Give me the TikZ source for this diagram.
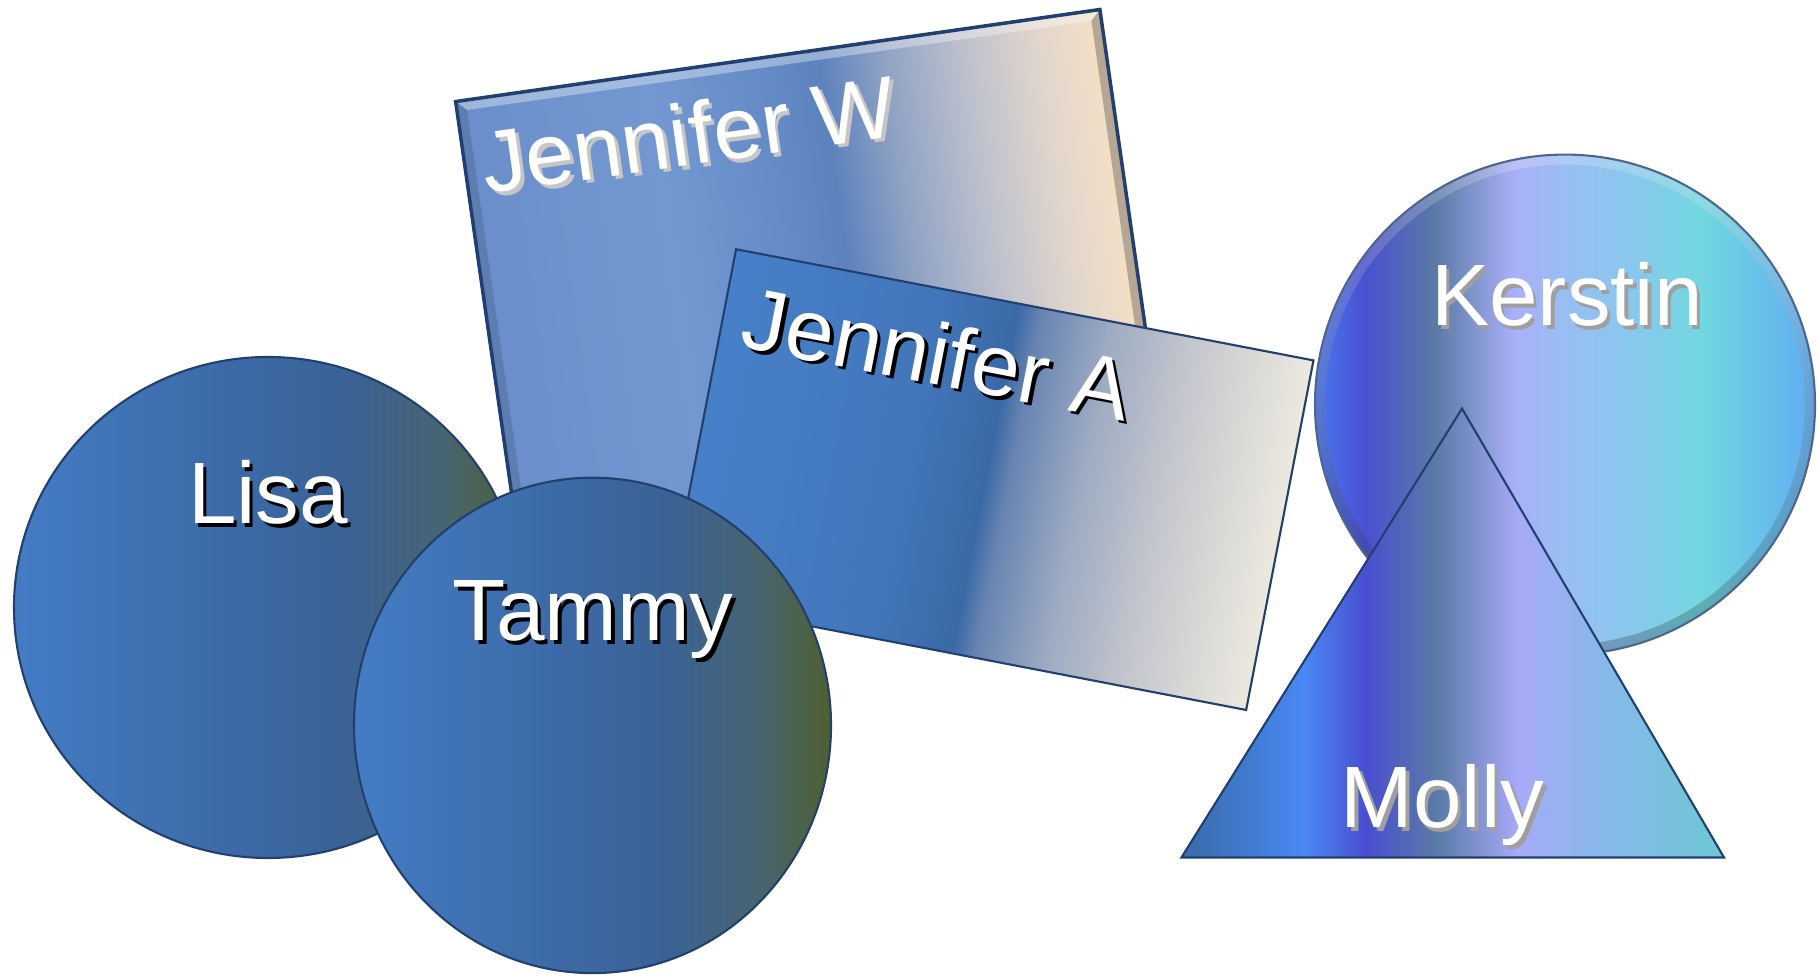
\documentclass[tikz,border=0pt]{standalone}
\usepackage{fontspec}
\setmainfont{Liberation Sans}

\definecolor{edgeblue}{HTML}{22406E}
% Lisa and Tammy
\definecolor{lt0}{HTML}{447CC4}\definecolor{lt1}{HTML}{3C69A5}
\definecolor{lt2}{HTML}{3A6296}\definecolor{lt3}{HTML}{486470}
\definecolor{lt4}{HTML}{4E6030}
% Jennifer W
\definecolor{jw0}{HTML}{6A8ECA}\definecolor{jw1}{HTML}{7398D1}
\definecolor{jw2}{HTML}{6289C5}\definecolor{jw3}{HTML}{5D82BE}
\definecolor{jw4}{HTML}{8FA2C3}\definecolor{jw5}{HTML}{BCC0CD}
\definecolor{jw6}{HTML}{E2D6CC}\definecolor{jw7}{HTML}{F4E0C5}
% Jennifer A
\definecolor{ja0}{HTML}{4780C8}\definecolor{ja1}{HTML}{4276BA}
\definecolor{ja2}{HTML}{3B69A6}\definecolor{ja3}{HTML}{6884B2}
\definecolor{ja4}{HTML}{9DABC2}\definecolor{ja5}{HTML}{C6C8CE}
\definecolor{ja6}{HTML}{ECE9DE}
% Kerstin
\definecolor{ke0}{HTML}{4A78EE}\definecolor{ke1}{HTML}{4A50D2}
\definecolor{ke2}{HTML}{5A7AA6}\definecolor{ke3}{HTML}{AAB0F8}
\definecolor{ke4}{HTML}{98BEF2}\definecolor{ke5}{HTML}{88C8EC}
\definecolor{ke6}{HTML}{72D8E0}\definecolor{ke7}{HTML}{62B2F0}
\definecolor{ke8}{HTML}{5AA8EE}
% Molly
\definecolor{mo0}{HTML}{3A6AA8}\definecolor{mo1}{HTML}{3F78C8}
\definecolor{mo2}{HTML}{4A88F5}\definecolor{mo3}{HTML}{4A4ED0}
\definecolor{mo4}{HTML}{5A7AA6}\definecolor{mo5}{HTML}{A8AAF8}
\definecolor{mo6}{HTML}{88B8EA}\definecolor{mo7}{HTML}{6CC8D4}

\pgfdeclarehorizontalshading{bluewash}{100bp}{color(0bp)=(lt0); color(25bp)=(lt0);
  color(47.5bp)=(lt1); color(57.5bp)=(lt2); color(67.5bp)=(lt3); color(75bp)=(lt4); color(100bp)=(lt4)}
\pgfdeclarehorizontalshading{peachwash}{100bp}{color(0bp)=(jw0); color(25bp)=(jw0);
  color(40bp)=(jw1); color(50bp)=(jw2); color(53bp)=(jw3); color(58bp)=(jw4);
  color(64bp)=(jw5); color(70bp)=(jw6); color(75bp)=(jw7); color(100bp)=(jw7)}
\pgfdeclarehorizontalshading{creamwash}{100bp}{color(0bp)=(ja0); color(25bp)=(ja0);
  color(42.5bp)=(ja1); color(49.5bp)=(ja2); color(51.5bp)=(ja3); color(57.5bp)=(ja4);
  color(65bp)=(ja5); color(75bp)=(ja6); color(100bp)=(ja6)}
\pgfdeclarehorizontalshading{aquawash}{100bp}{color(0bp)=(ke0); color(25bp)=(ke0);
  color(30bp)=(ke1); color(37bp)=(ke2); color(45bp)=(ke3); color(50bp)=(ke4);
  color(57bp)=(ke5); color(63.5bp)=(ke6); color(73.5bp)=(ke7); color(75bp)=(ke8); color(100bp)=(ke8)}
\pgfdeclarehorizontalshading{pyramidwash}{100bp}{color(0bp)=(mo0); color(25bp)=(mo0);
  color(30bp)=(mo1); color(36.25bp)=(mo2); color(42bp)=(mo3); color(48.5bp)=(mo4);
  color(56bp)=(mo5); color(63.5bp)=(mo6); color(75bp)=(mo7); color(100bp)=(mo7)}

\begin{document}
\begin{tikzpicture}
    [x=0.01cm,y=0.01cm,
     shape line/.style={draw=edgeblue, line width=0.6pt},
     name text/.style={text=white, font=\fontsize{24.8pt}{29pt}\selectfont, inner sep=0pt, anchor=base}]
    \useasboundingbox (0,0) rectangle (1818,976);

    % Jennifer W, the bevelled card at the back
    \begin{scope}[transform canvas={shift={(812.2,679.4)}, rotate=8.13}]
      \shade[shading=peachwash, shape line] (-325.4,-243.5) rectangle (325.4,243.5);
      \fill[white, opacity=.35] (-325.4,243.5) -- (325.4,243.5) -- (315.4,233.5) -- (-315.4,233.5) -- cycle;
      \fill[black, opacity=.12] (-325.4,243.5) -- (-315.4,233.5) -- (-315.4,-233.5) -- (-325.4,-243.5) -- cycle;
      \fill[black, opacity=.25] (325.4,243.5) -- (325.4,-243.5) -- (315.4,-233.5) -- (315.4,233.5) -- cycle;
      \draw[edgeblue, line width=1pt] (-325.4,-243.5) rectangle (325.4,243.5);
    \end{scope}

    % Jennifer A
    \begin{scope}[transform canvas={shift={(991.1,496.4)}, rotate=-10.9}]
      \shade[shading=creamwash, shape line] (-294,-178) rectangle (294,178);
    \end{scope}

    % Lisa and Tammy
    \shade[shading=bluewash, shape line] (268,368.5) ellipse [x radius=254, y radius=250.5];
    \shade[shading=bluewash, shape line] (592.5,250.6) ellipse [x radius=238.5, y radius=247.7];

    % Kerstin, with a bevelled rim
    \shade[shading=aquawash] (1565,571.4) circle [radius=250];
    \shade[top color=white, bottom color=black, opacity=.22, even odd rule]
      (1565,571.4) circle [radius=250] (1565,571.4) circle [radius=240];
    \draw[edgeblue!80, line width=0.6pt] (1565,571.4) circle [radius=250];

    % Molly
    \shade[shading=pyramidwash, shape line] (1462,567.4) -- (1724,118.5) -- (1181.4,118.5) -- cycle;

    % names, each with its drop shadow
    \foreach \nm/\px/\py/\ang/\txt/\shc in {
        jenw/693/811/8/Jennifer W/gray!45,
        jena/931.5/592/-10.9/Jennifer A/black,
        lisa/268/452/0/Lisa/black,
        tammy/593/335/0/Tammy/black,
        kerstin/1567/650/0/Kerstin/gray!75,
        molly/1442.5/148/0/Molly/gray!75}
    {
      \node[name text, text=\shc, rotate=\ang] (\nm-sh) at (\px+3.5,\py-3.5) {\txt};
      \node[name text, rotate=\ang] (\nm) at (\px,\py) {\txt};
    }
\end{tikzpicture}
\end{document}
